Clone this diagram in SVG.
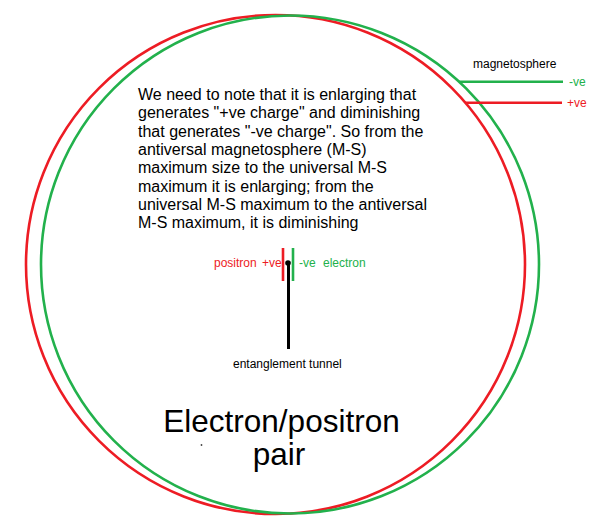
<svg xmlns="http://www.w3.org/2000/svg" width="606" height="531" viewBox="0 0 606 531">
<style>
  .t{font-family:"Liberation Sans",Arial,sans-serif;}
  .para{font-size:16px;fill:#000;}
  .lbl{font-size:12px;}
  .red{fill:#ed1c24;}
  .grn{fill:#22b14c;}
  .blk{fill:#000;}
  .rs{stroke:#ed1c24;fill:none;stroke-width:2.6;}
  .gs{stroke:#22b14c;fill:none;stroke-width:2.6;}
  .ks{stroke:#000;fill:none;stroke-width:3;}
</style>
<rect width="606" height="531" fill="#fff"/>
<g id="antiversal-ms">
  <circle class="rs" cx="275.5" cy="264.5" r="249.5"/>
</g>
<g id="universal-ms">
  <circle class="gs" cx="290" cy="264.5" r="249"/>
</g>
<g id="connectors">
  <line class="gs" x1="459" y1="81.7" x2="563" y2="81.7"/>
  <line class="rs" x1="465" y1="102.7" x2="562" y2="102.7"/>
  <line class="rs" x1="283" y1="248" x2="283" y2="281"/>
  <line class="gs" x1="293" y1="248" x2="293" y2="281"/>
  <line class="ks" x1="288.5" y1="263" x2="288.5" y2="349"/>
  <circle cx="288" cy="263" r="2.8" fill="#000"/>
</g>
<g id="legend">
  <text class="t lbl blk" x="473" y="68">magnetosphere</text>
  <text class="t lbl grn" x="569" y="86">-ve</text>
  <text class="t lbl red" x="567" y="107">+ve</text>
</g>
<g id="note">
  <text class="t para" x="138" y="100">We need to note that it is enlarging that</text>
  <text class="t para" x="138" y="118.3">generates "+ve charge" and diminishing</text>
  <text class="t para" x="138" y="136.6">that generates "-ve charge". So from the</text>
  <text class="t para" x="138" y="154.9">antiversal magnetosphere (M-S)</text>
  <text class="t para" x="138" y="173.2">maximum size to the universal M-S</text>
  <text class="t para" x="138" y="191.5">maximum it is enlarging; from the</text>
  <text class="t para" x="138" y="209.8">universal M-S maximum to the antiversal</text>
  <text class="t para" x="138" y="228.1">M-S maximum, it is diminishing</text>
</g>
<g id="positron">
  <text class="t lbl red" x="214" y="267">positron</text>
  <text class="t lbl red" x="262" y="267">+ve</text>
</g>
<g id="electron">
  <text class="t lbl grn" x="299" y="267">-ve</text>
  <text class="t lbl grn" x="323" y="267">electron</text>
</g>
<g id="tunnel">
  <text class="t lbl blk" x="233" y="368">entanglement tunnel</text>
</g>
<g id="title">
  <text class="t blk" font-size="31.5" x="281.5" y="432" text-anchor="middle">Electron/positron</text>
  <text class="t blk" font-size="31.5" x="279" y="465" text-anchor="middle">pair</text>
  <circle cx="201.5" cy="445" r="0.9" fill="#444"/>
</g>
</svg>
